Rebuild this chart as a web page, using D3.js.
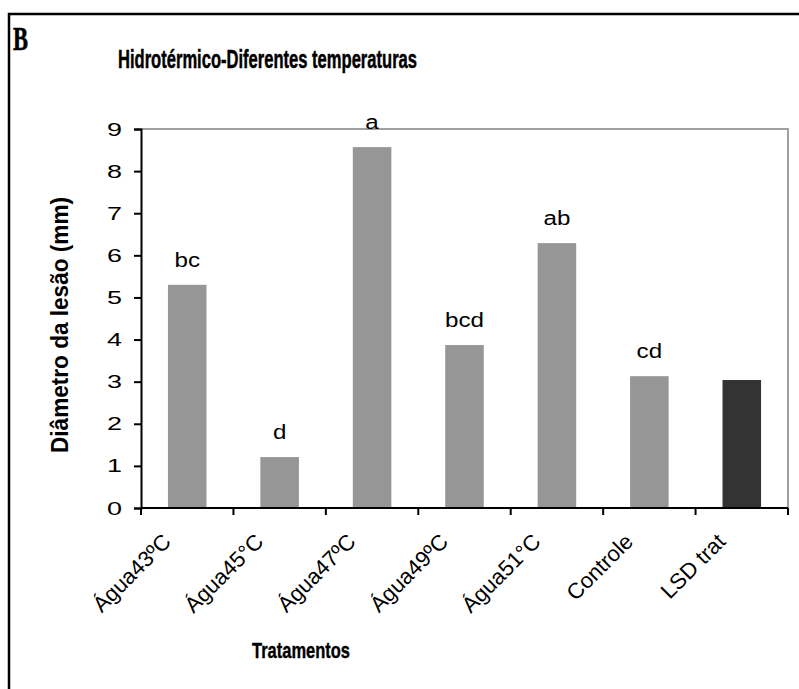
<!DOCTYPE html>
<html>
<head>
<meta charset="utf-8">
<script src="https://cdn.jsdelivr.net/npm/d3@7"></script>
<style>
  body { margin: 0; background: #fff; }
  svg { display: block; font-family: "Liberation Sans", Arial, sans-serif; }
</style>
</head>
<body>
<div id="chart"></div>
<script>
// Data
const categories = ["Água43ºC", "Água45°C", "Água47ºC", "Água49ºC", "Água51°C", "Controle", "LSD trat"];
const values = [5.30, 1.21, 8.57, 3.87, 6.29, 3.13, 3.04];
const letters = ["bc", "d", "a", "bcd", "ab", "cd", ""];
const barColors = ["#969696", "#969696", "#969696", "#969696", "#969696", "#969696", "#333333"];
const yTicks = [0, 1, 2, 3, 4, 5, 6, 7, 8, 9];

const W = 799, H = 689;
const plot = { left: 141, right: 788, top: 129, bottom: 508 };

const svg = d3.select("#chart")
    .append("svg")
    .attr("width", W)
    .attr("height", H);

// outer figure frame (runs off the right and bottom edge)
svg.append("path")
    .attr("d", `M9,${H + 5} V14 H${W + 5}`)
    .attr("fill", "none")
    .attr("stroke", "#000")
    .attr("stroke-width", 2.5);

// panel letter
svg.append("text")
    .attr("x", 13)
    .attr("y", 50)
    .attr("font-family", "'Liberation Serif', 'Times New Roman', serif")
    .attr("font-weight", "bold")
    .attr("font-size", 33)
    .attr("textLength", 15)
    .attr("lengthAdjust", "spacingAndGlyphs")
    .attr("stroke", "#000")
    .attr("stroke-width", 0.6)
    .text("B");

// title
svg.append("text")
    .attr("x", 118)
    .attr("y", 68)
    .attr("font-weight", "bold")
    .attr("font-size", 26)
    .attr("textLength", 299)
    .attr("lengthAdjust", "spacingAndGlyphs")
    .attr("stroke", "#000")
    .attr("stroke-width", 0.5)
    .text("Hidrotérmico-Diferentes temperaturas");

// scales
const x = d3.scaleBand()
    .domain(categories)
    .range([plot.left, plot.right])
    .paddingInner(0.583)
    .paddingOuter(0.2915);

const y = d3.scaleLinear()
    .domain([0, 9])
    .range([plot.bottom, plot.top]);

const step = (plot.right - plot.left) / categories.length;

// grey frame on top and right of the plot area
svg.append("path")
    .attr("d", `M${plot.left},${plot.top} H${plot.right} V${plot.bottom}`)
    .attr("fill", "none")
    .attr("stroke", "#a0a0a0")
    .attr("stroke-width", 2);

// bars
svg.selectAll(".bar")
    .data(values)
    .enter().append("rect")
    .attr("class", "bar")
    .attr("x", (d, i) => x(categories[i]))
    .attr("y", d => y(d))
    .attr("width", x.bandwidth())
    .attr("height", d => y(0) - y(d))
    .attr("fill", (d, i) => barColors[i]);

// significance letters (the reference glyphs are a bit wide)
svg.selectAll(".letter")
    .data(values)
    .enter().append("text")
    .attr("class", "letter")
    .attr("transform", (d, i) => `translate(${x(categories[i]) + x.bandwidth() / 2},${y(d) - 18}) scale(1.15,1)`)
    .attr("text-anchor", "middle")
    .attr("font-size", 21)
    .text((d, i) => letters[i]);

// y axis
const yAxis = svg.append("g")
    .attr("transform", `translate(${plot.left},0)`)
    .call(d3.axisLeft(y).tickValues(yTicks).tickSize(7).tickPadding(12).tickFormat(d3.format("d")));
yAxis.select(".domain").attr("stroke", "#000").attr("stroke-width", 2);
yAxis.selectAll(".tick line").attr("stroke", "#000").attr("stroke-width", 2);
yAxis.selectAll(".tick text")
    .attr("font-size", 19)
    .attr("font-family", "'Liberation Sans', Arial, sans-serif")
    .attr("textLength", 15)
    .attr("lengthAdjust", "spacingAndGlyphs")
    .attr("fill", "#000");

// x axis: line + ticks between categories
const xAxis = svg.append("g");
xAxis.append("line")
    .attr("x1", plot.left).attr("x2", plot.right)
    .attr("y1", plot.bottom).attr("y2", plot.bottom)
    .attr("stroke", "#000").attr("stroke-width", 2);
xAxis.selectAll(".xtick")
    .data(d3.range(categories.length + 1))
    .enter().append("line")
    .attr("class", "xtick")
    .attr("x1", i => plot.left + i * step).attr("x2", i => plot.left + i * step)
    .attr("y1", plot.bottom).attr("y2", plot.bottom + 7)
    .attr("stroke", "#000").attr("stroke-width", 2);

// rotated category labels
xAxis.selectAll(".xlabel")
    .data(categories)
    .enter().append("text")
    .attr("class", "xlabel")
    .attr("transform", d => `translate(${x(d) + x.bandwidth() / 2 - 15},${plot.bottom + 35}) rotate(-45)`)
    .attr("text-anchor", "end")
    .attr("font-size", 22)
    .text(d => d);

// axis titles
svg.append("text")
    .attr("x", 301)
    .attr("y", 658)
    .attr("text-anchor", "middle")
    .attr("font-weight", "bold")
    .attr("font-size", 22)
    .attr("textLength", 98)
    .attr("lengthAdjust", "spacingAndGlyphs")
    .attr("stroke", "#000")
    .attr("stroke-width", 0.4)
    .text("Tratamentos");

svg.append("text")
    .attr("transform", "translate(68,325) rotate(-90)")
    .attr("text-anchor", "middle")
    .attr("font-weight", "bold")
    .attr("font-size", 24)
    .attr("textLength", 256)
    .attr("lengthAdjust", "spacingAndGlyphs")
    .text("Diâmetro da lesão (mm)");
</script>
</body>
</html>
